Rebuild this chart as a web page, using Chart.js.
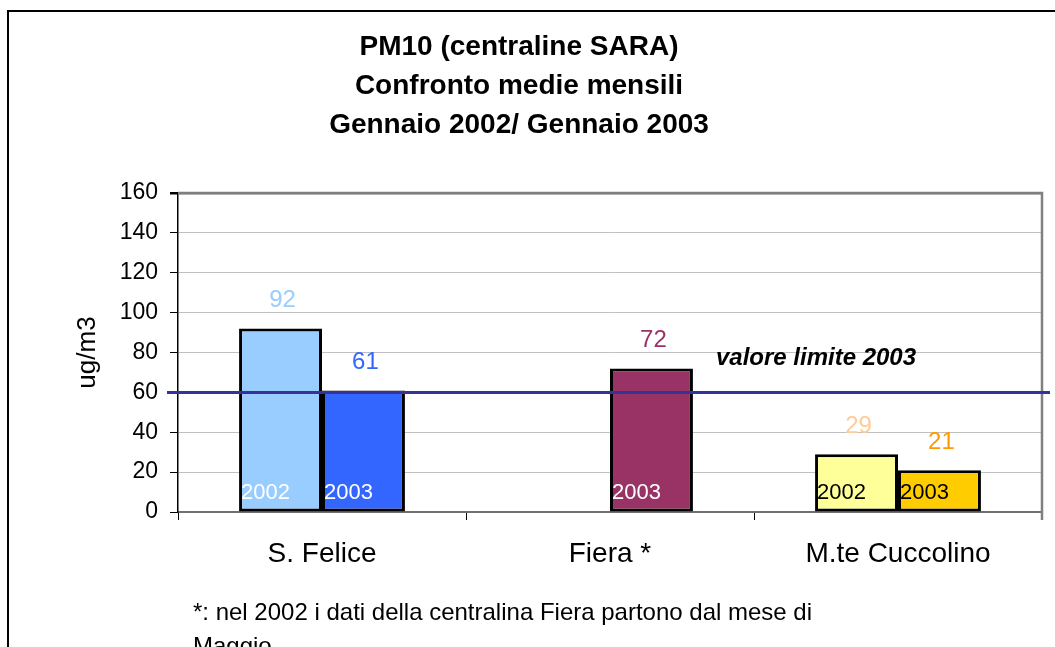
<!DOCTYPE html>
<html lang="it">

<head>
    <meta charset="UTF-8">
    <title>PM10 centraline SARA</title>
    <script src="https://cdn.jsdelivr.net/npm/chart.js@4.4.1/dist/chart.umd.min.js"></script>
    <style>
        body {
            margin: 0;
            background: #ffffff;
        }

        #grafico {
            display: block;
        }
    </style>
</head>

<body>
    <canvas id="grafico" width="1055" height="647"></canvas>

    <script>
        // dati
        const stazioni = ['S. Felice', 'Fiera *', 'M.te Cuccolino']
        const anni = ['2002', '2003']
        const valori2002 = [92, null, 29]
        const valori2003 = [61, 72, 21]
        const colori2002 = ['#99CCFF', '#99CCFF', '#FFFF99']
        const colori2003 = ['#3366FF', '#993366', '#FFCC00']
        const coloriValori2002 = ['#99CCFF', '#99CCFF', '#FFCC99']
        const coloriValori2003 = ['#3366FF', '#993366', '#FF9900']
        const coloriAnno2002 = ['#ffffff', '#ffffff', '#000000']
        const coloriAnno2003 = ['#ffffff', '#ffffff', '#000000']
        const titolo = ['PM10 (centraline SARA)', 'Confronto medie mensili', 'Gennaio 2002/ Gennaio 2003']
        const valoreLimite = 60
        const testoLimite = 'valore limite 2003'
        const nota = ['*: nel 2002 i dati della centralina Fiera partono dal mese di', 'Maggio']
        const yMin = 0
        const yMax = 160
        const yPasso = 20

        const FONT = 'Arial, "Liberation Sans", sans-serif'

        // cornice, titolo, linea limite, etichette
        const extra = {
            id: 'extra',
            beforeDraw(chart) {
                const ctx = chart.ctx
                ctx.save()
                ctx.strokeStyle = '#000000'
                ctx.lineWidth = 2
                ctx.beginPath()
                ctx.moveTo(8, chart.height + 2)
                ctx.lineTo(8, 11)
                ctx.lineTo(chart.width + 2, 11)
                ctx.stroke()

                ctx.fillStyle = '#000000'
                ctx.textAlign = 'center'
                ctx.textBaseline = 'middle'
                ctx.font = 'bold 28px ' + FONT
                titolo.forEach((riga, i) => ctx.fillText(riga, 519, 47 + i * 39))

                ctx.textAlign = 'left'
                ctx.font = '24px ' + FONT
                nota.forEach((riga, i) => ctx.fillText(riga, 193, 613 + i * 34))
                ctx.restore()
            },
            beforeDatasetsDraw(chart) {
                const ctx = chart.ctx
                const area = chart.chartArea
                ctx.save()
                ctx.strokeStyle = '#808080'
                ctx.lineWidth = 2.5
                ctx.beginPath()
                ctx.moveTo(area.left, area.top)
                ctx.lineTo(area.right, area.top)
                ctx.lineTo(area.right, area.bottom + 8)
                ctx.stroke()
                ctx.restore()
            },
            afterDatasetsDraw(chart) {
                const ctx = chart.ctx
                const area = chart.chartArea
                const y = chart.scales.y
                ctx.save()

                // valori sopra le barre e anno dentro le barre
                const serie = [
                    { valori: valori2002, colori: coloriValori2002, anni: coloriAnno2002 },
                    { valori: valori2003, colori: coloriValori2003, anni: coloriAnno2003 }
                ]
                serie.forEach((s, d) => {
                    const meta = chart.getDatasetMeta(d)
                    meta.data.forEach((bar, i) => {
                        if (s.valori[i] == null) return
                        ctx.textBaseline = 'middle'
                        ctx.textAlign = 'center'
                        ctx.font = '24px ' + FONT
                        ctx.fillStyle = s.colori[i]
                        ctx.fillText(String(s.valori[i]), bar.x + 2, bar.y - 28)
                        ctx.textAlign = 'left'
                        ctx.font = '22px ' + FONT
                        ctx.fillStyle = s.anni[i]
                        ctx.fillText(anni[d], bar.x - bar.width / 2 + 2, area.bottom - 19)
                    })
                })

                // linea del valore limite
                const yl = y.getPixelForValue(valoreLimite)
                ctx.strokeStyle = '#333399'
                ctx.lineWidth = 3
                ctx.beginPath()
                ctx.moveTo(area.left - 11, yl)
                ctx.lineTo(chart.width - 5, yl)
                ctx.stroke()

                ctx.fillStyle = '#000000'
                ctx.font = 'italic bold 24px ' + FONT
                ctx.textAlign = 'center'
                ctx.textBaseline = 'middle'
                ctx.fillText(testoLimite, 816, yl - 34)
                ctx.restore()
            }
        }

        const data = {
            labels: stazioni,
            datasets: [{
                label: anni[0],
                data: valori2002,
                backgroundColor: colori2002,
                borderColor: '#000000',
                borderWidth: 3,
                borderSkipped: false
            }, {
                label: anni[1],
                data: valori2003,
                backgroundColor: colori2003,
                borderColor: '#000000',
                borderWidth: 3,
                borderSkipped: false
            }]
        }

        const config = {
            type: 'bar',
            data: data,
            plugins: [extra],
            options: {
                responsive: false,
                animation: false,
                categoryPercentage: 0.576,
                barPercentage: 1,
                layout: {
                    padding: { left: 68, top: 193, right: 13, bottom: 0 }
                },
                plugins: {
                    legend: { display: false },
                    tooltip: { enabled: false }
                },
                scales: {
                    x: {
                        afterFit: (scale) => { scale.height = 135 },
                        grid: {
                            offset: true,
                            drawOnChartArea: false,
                            tickLength: 8,
                            tickColor: '#000000'
                        },
                        border: { color: '#707070', width: 2 },
                        ticks: {
                            color: '#000000',
                            padding: 17,
                            font: { family: FONT, size: 28 }
                        }
                    },
                    y: {
                        min: yMin,
                        max: yMax,
                        afterFit: (scale) => { scale.width = 110 },
                        grid: {
                            color: (c) => c.tick && c.tick.value === yMax ? '#808080' : '#c0c0c0',
                            lineWidth: (c) => c.tick && c.tick.value === yMax ? 2.5 : 1,
                            tickColor: '#000000',
                            tickLength: 8
                        },
                        border: { color: '#000000', width: 1.5 },
                        ticks: {
                            stepSize: yPasso,
                            color: '#000000',
                            padding: 12,
                            font: { family: FONT, size: 23 }
                        },
                        title: {
                            display: true,
                            text: 'ug/m3',
                            color: '#000000',
                            font: { family: FONT, size: 26 }
                        }
                    }
                }
            }
        }

        const grafico = new Chart(document.getElementById('grafico'), config)
    </script>
</body>

</html>
